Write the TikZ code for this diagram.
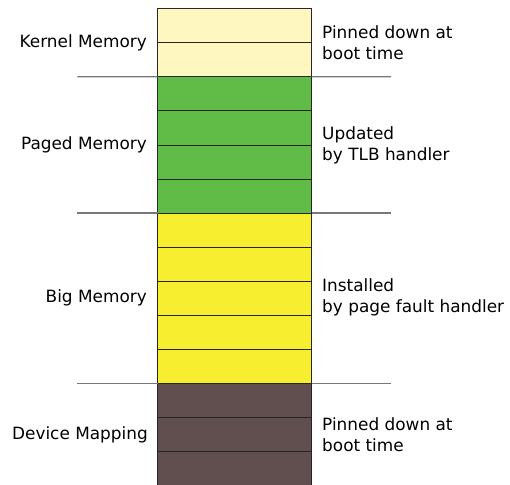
\documentclass[tikz,border=0pt]{standalone}
\usepackage{fontspec}
\setmainfont{DejaVu Sans}
\definecolor{kern}{HTML}{FFF7BF}
\definecolor{paged}{HTML}{60BB47}
\definecolor{bigm}{HTML}{F8EE30}
\definecolor{devm}{HTML}{614F4F}
\definecolor{sepc}{HTML}{777777}
\begin{document}
\begin{tikzpicture}[x=1pt,y=-1pt,
  cell/.style={draw=black!85,line width=0.9pt,minimum width=154pt,minimum height=34.1pt,inner sep=0pt,outer sep=0pt},
  sepline/.style={draw=sepc,line width=1.2pt},
  lab/.style={font=\fontsize{16.9}{20.8}\selectfont,inner sep=0pt,align=left},
  ]
\useasboundingbox (0,0) rectangle (510,484);
\begin{scope}
\clip (0,0) rectangle (510,484);
% kernel
\node[cell,fill=kern] (k1) at (234.5,25.7) {};
\node[cell,fill=kern] (k2) at (234.5,59.8) {};
% paged
\node[cell,fill=paged] (p1) at (234.5,93.8) {};
\node[cell,fill=paged] (p2) at (234.5,127.9) {};
\node[cell,fill=paged] (p3) at (234.5,162.0) {};
\node[cell,fill=paged] (p4) at (234.5,196.0) {};
% big
\node[cell,fill=bigm] (b1) at (234.5,230.1) {};
\node[cell,fill=bigm] (b2) at (234.5,264.2) {};
\node[cell,fill=bigm] (b3) at (234.5,298.3) {};
\node[cell,fill=bigm] (b4) at (234.5,332.4) {};
\node[cell,fill=bigm] (b5) at (234.5,366.5) {};
% device
\node[cell,fill=devm] (d1) at (234.5,400.6) {};
\node[cell,fill=devm] (d2) at (234.5,434.7) {};
\node[cell,fill=devm] (d3) at (234.5,468.8) {};
\end{scope}
% separators
\coordinate (s1a) at (77.3,76.7); \coordinate (s1b) at (391,76.7);
\coordinate (s2a) at (77.3,213.05); \coordinate (s2b) at (391,213.05);
\coordinate (s3a) at (77.3,383.55); \coordinate (s3b) at (391,383.55);
\draw[sepline] (s1a) -- (k2.south west);
\draw[sepline] (k2.south east) -- (s1b);
\draw[sepline] (s2a) -- (p4.south west);
\draw[sepline] (p4.south east) -- (s2b);
\draw[sepline] (s3a) -- (b5.south west);
\draw[sepline] (b5.south east) -- (s3b);
% left labels
\node[lab,anchor=east] (lk) at (147,42.5) {Kernel Memory};
\node[lab,anchor=east] (lp) at (147,145) {Paged Memory};
\node[lab,anchor=east] (lb) at (147,297.5) {Big Memory};
\node[lab,anchor=east] (ld) at (148,434.5) {Device Mapping};
% right labels
\node[lab,anchor=west] (rk) at (322,42.5) {Pinned down at\\boot time};
\node[lab,anchor=west] (rp) at (322,145) {Updated\\by TLB handler};
\node[lab,anchor=west] (rb) at (322,297.5) {Installed\\by page fault handler};
\node[lab,anchor=west] (rd) at (322,435) {Pinned down at\\boot time};
\end{tikzpicture}
\end{document}
